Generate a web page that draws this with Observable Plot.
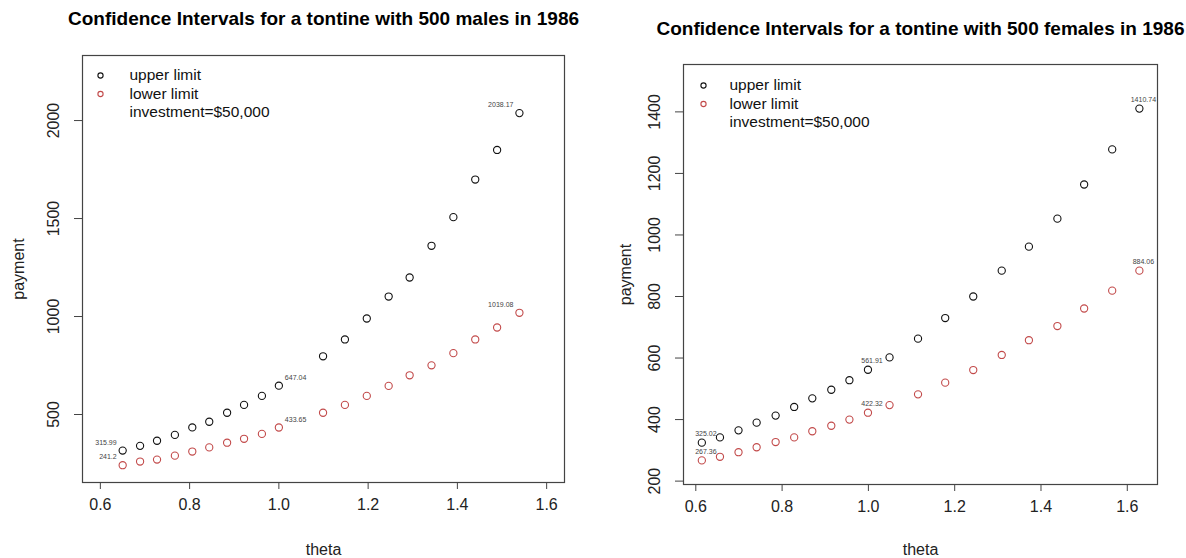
<!DOCTYPE html>
<html>
<head>
<meta charset="utf-8">
<script src="https://cdn.jsdelivr.net/npm/d3@7"></script>
<script src="https://cdn.jsdelivr.net/npm/@observablehq/plot@0.6"></script>
<style>
  html, body { margin: 0; padding: 0; background: #fff; }
  #wrap { position: relative; width: 1186px; height: 558px; overflow: hidden; }
  .panel { position: absolute; top: 0; }
</style>
</head>
<body>
<div id="wrap">
  <div id="male" class="panel" style="left:0px"></div>
  <div id="female" class="panel" style="left:593px"></div>
</div>
<script>
// ---- Data ----
const maleTitle = "Confidence Intervals for a tontine with 500 males in 1986";
const femaleTitle = "Confidence Intervals for a tontine with 500 females in 1986";

const maleTheta = [0.65, 0.689, 0.727, 0.767, 0.806, 0.844, 0.884, 0.922, 0.962, 1.0,
                   1.099, 1.148, 1.197, 1.246, 1.293, 1.342, 1.391, 1.44, 1.489, 1.539];
const maleUpper = [315.99, 340, 366, 396, 434, 463, 509, 549, 595, 647.04,
                   797, 883, 990, 1102, 1199, 1361, 1507, 1699, 1850, 2038.17];
const maleLower = [241.2, 260, 270, 290, 311, 332, 356, 376, 401, 433.65,
                   509, 549, 595, 646, 700, 751, 813, 883, 944, 1019.08];

const femaleTheta = [0.614, 0.656, 0.699, 0.741, 0.785, 0.828, 0.870, 0.914, 0.956, 0.999,
                     1.049, 1.115, 1.178, 1.243, 1.309, 1.372, 1.438, 1.500, 1.565, 1.628];
const femaleUpper = [325.02, 342, 365, 390, 413, 441, 469, 497, 528, 561.91,
                     602, 663, 730, 800, 884, 962, 1053, 1164, 1278, 1410.74];
const femaleLower = [267.36, 279, 294, 310, 327, 342, 362, 380, 400, 422.32,
                     447, 482, 520, 561, 610, 658, 704, 761, 819, 884.06];

// which points carry value labels
const maleLabelLeft = [0, 19];
const maleLabelRight = [9];
const femaleLabelAt = [0, 9, 19];

const xTicks = [0.6, 0.8, 1.0, 1.2, 1.4, 1.6];
const maleYTicks = [500, 1000, 1500, 2000];
const femaleYTicks = [200, 400, 600, 800, 1000, 1200, 1400];

const legendLabels = ["upper limit", "lower limit", "investment=$50,000"];
const xLabel = "theta";
const yLabel = "payment";

// ---- Styles ----
const upperColor = "#111";
const lowerColor = "#c24a4a";
const labelColor = "#444";
const font = "'Liberation Sans', Arial, Helvetica, sans-serif";

function rows(theta, upper, lower) {
  return theta.map((t, i) => ({theta: t, upper: upper[i], lower: lower[i]}));
}

function legendMarks(symbolDx, textDx, dy0, step) {
  const marks = [];
  const colors = [upperColor, lowerColor, null];
  legendLabels.forEach((lab, i) => {
    if (colors[i]) {
      marks.push(Plot.dot([lab], {frameAnchor: "top-left", dx: symbolDx, dy: dy0 + i * step,
        r: 2.6, stroke: colors[i], strokeWidth: 1.1, fill: "none"}));
    }
    marks.push(Plot.text([lab], {frameAnchor: "top-left", dx: textDx, dy: dy0 + i * step,
      text: d => d, textAnchor: "start", lineAnchor: "middle", fontSize: 15.5, fill: "#111"}));
  });
  return marks;
}

function panel(cfg) {
  const data = rows(cfg.theta, cfg.upper, cfg.lower);
  const marks = [
    Plot.frame({stroke: "#444", strokeWidth: 1.2}),
    Plot.axisX(xTicks, {tickSize: 7, tickPadding: 9, tickFormat: d => d.toFixed(1),
      fontSize: 16, stroke: "#444", label: null}),
    Plot.axisY(cfg.yTicks, {tickSize: 8, tickFormat: () => "", stroke: "#444", label: null}),
    Plot.text(cfg.yTicks, {y: d => d, frameAnchor: "left", dx: -29, rotate: -90,
      textAnchor: "middle", lineAnchor: "middle",
      text: d => String(d), fontSize: 16, fill: "#222"}),
    Plot.text([xLabel], {frameAnchor: "bottom", dy: cfg.xLabelDy, text: d => d,
      textAnchor: "middle", lineAnchor: "middle", fontSize: 16, fill: "#222"}),
    Plot.text([yLabel], {frameAnchor: "left", dx: cfg.yLabelDx, rotate: -90, text: d => d,
      textAnchor: "middle", lineAnchor: "middle", fontSize: 16, fill: "#222"}),
    Plot.text([cfg.title], {frameAnchor: "top", dy: cfg.titleDy, text: d => d,
      textAnchor: "middle", lineAnchor: "middle",
      fontWeight: "bold", fontSize: 19, fill: "#000"}),
    Plot.dot(data, {x: "theta", y: "upper", r: 3.6, stroke: upperColor, strokeWidth: 1.1, fill: "none"}),
    Plot.dot(data, {x: "theta", y: "lower", r: 3.6, stroke: lowerColor, strokeWidth: 1.1, fill: "none"}),
    ...cfg.labelMarks(data),
    ...legendMarks(cfg.legend[0], cfg.legend[1], cfg.legend[2], cfg.legend[3])
  ];
  return Plot.plot({
    width: 593,
    height: 558,
    marginLeft: cfg.margin[0], marginTop: cfg.margin[1], marginRight: cfg.margin[2], marginBottom: cfg.margin[3],
    style: {fontFamily: font, fontSize: "16px", color: "#222", background: "#fff"},
    x: {domain: cfg.xDomain, axis: null},
    y: {domain: cfg.yDomain, axis: null},
    marks
  });
}

function valueLabels(subset, anchor, dx, dy) {
  return [
    Plot.text(subset, {x: "theta", y: "upper", text: d => String(d.upper), textAnchor: anchor,
      dx, dy, fontSize: 7, fill: labelColor}),
    Plot.text(subset, {x: "theta", y: "lower", text: d => String(d.lower), textAnchor: anchor,
      dx, dy, fontSize: 7, fill: labelColor})
  ];
}

document.getElementById("male").appendChild(panel({
  theta: maleTheta, upper: maleUpper, lower: maleLower,
  yTicks: maleYTicks, title: maleTitle,
  margin: [82, 55, 29, 76],
  xDomain: [0.56, 1.64], yDomain: [153, 2332],
  xLabelDy: 67, yLabelDx: -64, titleDy: -37,
  legend: [18, 47, 20, 18.5],
  labelMarks: data => [
    ...valueLabels(maleLabelLeft.map(i => data[i]), "end", -6, -8),
    ...valueLabels(maleLabelRight.map(i => data[i]), "start", 6, -8)
  ]
}));

document.getElementById("female").appendChild(panel({
  theta: femaleTheta, upper: femaleUpper, lower: femaleLower,
  yTicks: femaleYTicks, title: femaleTitle,
  margin: [90, 64, 29, 74],
  xDomain: [0.5715, 1.670], yDomain: [189, 1554],
  xLabelDy: 65, yLabelDx: -58, titleDy: -36,
  legend: [20, 46, 21, 18.5],
  labelMarks: data => valueLabels(femaleLabelAt.map(i => data[i]), "middle", 4, -9)
}));
</script>
</body>
</html>
